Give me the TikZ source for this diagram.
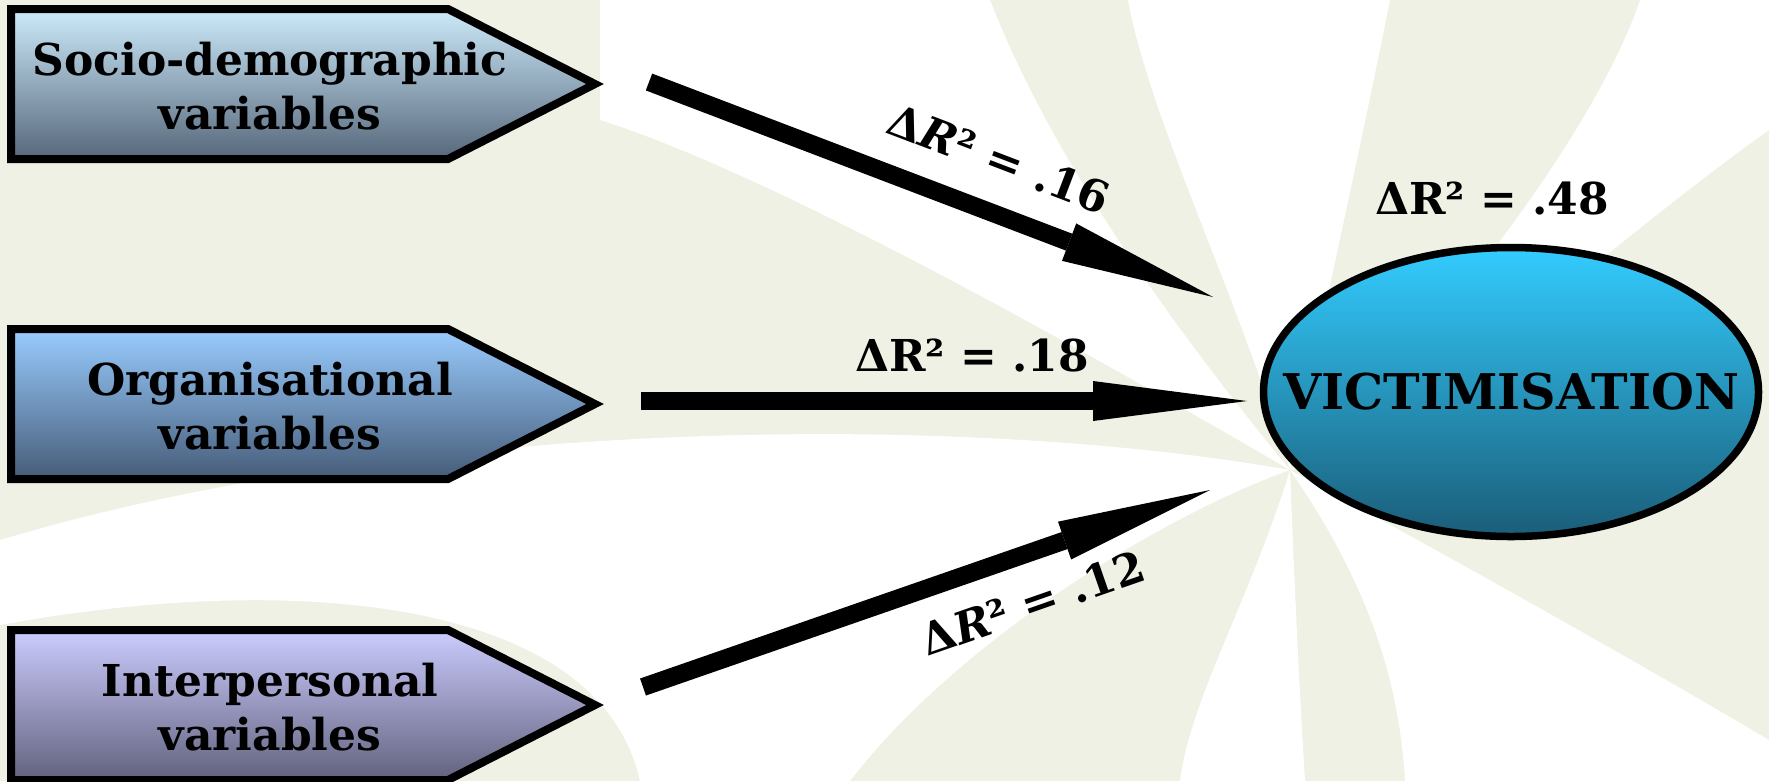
\documentclass[tikz,border=0pt]{standalone}
\usepackage{fontspec}
\setmainfont{DejaVu Serif}
\usetikzlibrary{arrows.meta,calc,shapes.geometric}

\definecolor{paleback}{HTML}{EEF1E3}
\definecolor{sociotop}{HTML}{CDEBFB}
\definecolor{sociobot}{HTML}{56677A}
\definecolor{organtop}{HTML}{99CCFF}
\definecolor{organbot}{HTML}{465C78}
\definecolor{intertop}{HTML}{CCCCFF}
\definecolor{interbot}{HTML}{62627E}
\definecolor{victimtop}{HTML}{33CCFF}
\definecolor{victimbot}{HTML}{1A5D78}

% one arrow-shaped box: name, top edge, top colour, bottom colour, text
\newcommand{\varbox}[5]{%
    \path[boxline,top color=#3,bottom color=#4]
        (11,#2) -- (448,#2) -- (595,{#2+75}) -- (448,{#2+150}) -- (11,{#2+150}) -- cycle;
    \coordinate (#1-tip) at (595,{#2+75});
    \node[boxtext] (#1) at (270,{#2+77}) {#5};
}

\begin{document}
\begin{tikzpicture}[
    x=0.1mm,y=-0.1mm,
    font=\bfseries\fontsize{12.5}{15.5}\selectfont,
    boxline/.style={draw=black,line width=0.8mm,line join=miter},
    boxtext/.style={align=center,inner sep=0pt},
    victimnode/.style={ellipse,draw=black,line width=0.75mm,inner sep=0pt,
        top color=victimtop,bottom color=victimbot,
        minimum width=49.5mm,minimum height=28.9mm,
        font=\bfseries\fontsize{14}{16}\selectfont},
    flow/.style={draw=black,line width=1.8mm,
        -{Triangle[length=15.4mm,width=4mm,line width=0pt]}},
    gain/.style={inner sep=1pt,font=\bfseries\fontsize{12.5}{15}\selectfont}
]
\useasboundingbox (0,0) rectangle (1769,781);
% background swirl
\fill[paleback] (0,0) rectangle (1769,781);
\coordinate (hub) at (1290,470);
\fill[white] (hub) .. controls (1050,330) and (760,170) .. (600,120) -- (600,0)
    -- (990,0) .. controls (1060,180) and (1200,360) .. (hub);
\fill[white] (hub) .. controls (1240,300) and (1150,120) .. (1128,0)
    -- (1390,0) .. controls (1360,150) and (1320,330) .. (hub);
\fill[white] (hub) .. controls (1450,330) and (1600,120) .. (1640,0)
    -- (1769,0) -- (1769,130) .. controls (1600,250) and (1450,400) .. (hub);
\fill[white] (hub) .. controls (950,410) and (400,420) .. (0,540) -- (0,625)
    .. controls (300,570) and (600,600) .. (640,781) -- (850,781)
    .. controls (950,650) and (1150,520) .. (hub);
\fill[white] (hub) .. controls (1250,600) and (1190,700) .. (1180,781)
    -- (1305,781) .. controls (1300,700) and (1295,600) .. (hub);
\fill[white] (hub) .. controls (1380,600) and (1400,700) .. (1405,781)
    -- (1769,781) -- (1769,740) .. controls (1600,640) and (1400,530) .. (hub);

% predictor boxes
\varbox{socio}{9}{sociotop}{sociobot}{Socio-demographic\\variables}
\varbox{organ}{329}{organtop}{organbot}{Organisational\\variables}
\varbox{inter}{630}{intertop}{interbot}{Interpersonal\\variables}

\node[victimnode] (victim) at (1511,392) {\makebox[0pt]{VICTIMISATION}};
\node[gain] (total) at (1492,198) {ΔR² = .48};

\draw[flow] ($(socio-tip)+(54,-2)$) -- ($(victim)+(-298,-95)$);
\draw[flow] ($(organ-tip)+(46,-3)$) -- ($(victim)+(-264,9)$);
\draw[flow] ($(inter-tip)+(48,-18)$) -- ($(victim)+(-301,98)$);

\node[gain,rotate=-20.9] (gsocio) at (999,159) {Δ\textit{R}² = .16};
\node[gain] (gorgan) at (972,355) {ΔR² = .18};
\node[gain,rotate=19.2] (ginter) at (1033,603) {Δ\textit{R}² = .12};
\end{tikzpicture}
\end{document}
